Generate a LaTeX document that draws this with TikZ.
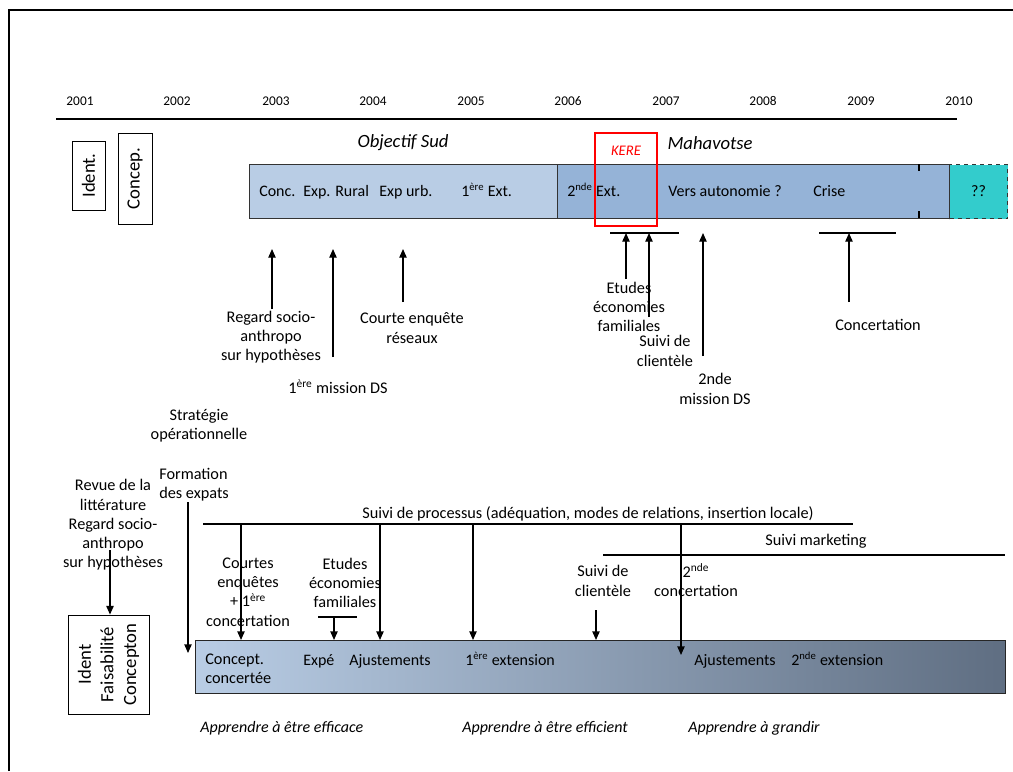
\documentclass[tikz,border=0pt]{standalone}
\usepackage{fontspec}
\setmainfont{Carlito}
\usetikzlibrary{arrows.meta}
\definecolor{barlight}{RGB}{185,205,229}
\definecolor{bardark}{RGB}{149,179,215}
\definecolor{teal2}{RGB}{51,204,204}
\definecolor{gradL}{RGB}{185,205,229}
\definecolor{gradR}{RGB}{95,110,130}
\begin{document}
\begin{tikzpicture}[x=0.75pt,y=-0.75pt,
  lbl/.style={font=\fontsize{12.2}{14.4}\selectfont, align=center, inner sep=0pt},
  lbll/.style={font=\fontsize{12.2}{14.4}\selectfont, align=left, inner sep=0pt, anchor=west},
  yr/.style={font=\fontsize{10}{12}\selectfont, inner sep=0pt, anchor=base},
  ital/.style={font=\fontsize{14}{16}\selectfont\itshape, inner sep=0pt},
  itl/.style={font=\fontsize{12}{14}\selectfont\itshape, inner sep=0pt, anchor=west},
  bartxt/.style={font=\fontsize{12}{14.3}\selectfont, inner sep=0pt, anchor=base west},
  vbox/.style={draw, line width=0.6pt, rotate=90, inner sep=0pt, align=center, font=\fontsize{14}{17}\selectfont},
  arr/.style={-{Triangle[length=6.5pt,width=5.5pt]}, line width=1pt},
  plain/.style={line width=1pt}]
\useasboundingbox (0,0) rectangle (1013,771);
% frame
\draw[line width=1.5pt] (9,771) -- (9,10) -- (1013,10);
% years
\foreach \yy/\xx in {2001/80,2002/177,2003/276,2004/373,2005/471,2006/568,2007/666,2008/763,2009/861,2010/959}
  \node[yr] (y\yy) at (\xx,105) {\yy};
\coordinate (tlA) at (56,119);
\coordinate (tlB) at (957,119);
\draw[line width=1.5pt] (tlA) -- (tlB);
% small boxes
\node[vbox, minimum width=51.75pt, minimum height=24.75pt] (ident) at (88.5,175.5) {Ident.};
\node[vbox, minimum width=68.25pt, minimum height=25.5pt] (concep) at (135,178.5) {Concep.};
% top bar
\node[draw=black!80, line width=0.8pt, fill=barlight, minimum width=231pt, minimum height=40.5pt, anchor=north west, inner sep=0pt] (os) at (249,164) {};
\node[draw=black!80, line width=0.8pt, fill=bardark, minimum width=294pt, minimum height=40.5pt, anchor=north west, inner sep=0pt] (mh) at (557,164) {};
\node[draw=black!80, dashed, line width=0.8pt, fill=teal2, minimum width=43.5pt, minimum height=40.5pt, anchor=north west, inner sep=0pt, font=\fontsize{12}{14}\selectfont] (qq) at (949,164) {??};
\draw[line width=0.8pt] (919,164) -- (919,171);
\draw[line width=0.8pt] (919,211) -- (919,218);
\node[bartxt] (t1) at (259,196) {Conc.};
\node[bartxt] (t2) at (303,196) {Exp. Rural};
\node[bartxt] (t3) at (379,196) {Exp urb.};
\node[bartxt] (t4) at (461,196) {1\textsuperscript{ère} Ext.};
\node[bartxt] (t5) at (567,196) {2\textsuperscript{nde} Ext.};
\node[bartxt] (t6) at (668,196) {Vers autonomie ?};
\node[bartxt] (t7) at (813,196) {Crise};
% KERE
\node[draw=red, line width=2.2pt, minimum width=46.5pt, minimum height=69.75pt, inner sep=0pt] (kere) at (626,179.5) {};
\node[font=\fontsize{11}{13}\selectfont\itshape, text=red, inner sep=0pt] (keret) at (626,151) {KERE};
\node[ital] (objsud) at (403,143) {Objectif Sud};
\node[ital] (mahav) at (710,143) {Mahavotse};
% upper annotations
\node[lbl] (regard) at (271,337) {Regard socio-\\anthropo\\sur hypothèses};
\node[lbl] (miss1) at (338,387) {1\textsuperscript{ère} mission DS};
\node[lbl] (courte) at (412,328) {Courte enquête\\réseaux};
\node[lbl] (etudesA) at (629,307) {Etudes\\économies\\familiales};
\node[lbl] (suiviA) at (665,351) {Suivi de\\clientèle};
\node[lbl] (miss2) at (715,389) {2nde\\mission DS};
\node[lbl] (concert) at (878,325) {Concertation};
\coordinate (a1s) at (272,309); \coordinate (a1e) at (272,249);
\coordinate (a2s) at (333,357); \coordinate (a2e) at (333,249);
\coordinate (a3s) at (403,302); \coordinate (a3e) at (403,249);
\draw[arr] (a1s) -- (a1e);
\draw[arr] (a2s) -- (a2e);
\draw[arr] (a3s) -- (a3e);
\coordinate (b1L) at (610,233); \coordinate (b1R) at (679,233);
\draw[plain] (b1L) -- (b1R);
\coordinate (a4s) at (626,279); \coordinate (a5s) at (649,317); \coordinate (a6s) at (703,356);
\draw[arr] (a4s) -- (a4s |- b1L);
\draw[arr] (a5s) -- (a5s |- b1L);
\draw[arr] (a6s) -- (a6s |- b1L);
\coordinate (b2L) at (819,233); \coordinate (b2R) at (896,233);
\draw[plain] (b2L) -- (b2R);
\coordinate (a7s) at (849,302);
\draw[arr] (a7s) -- (a7s |- b2L);
% lower part
\node[lbl] (strat) at (199,426) {Stratégie\\opérationnelle};
\node[lbll] (form) at (159,485) {Formation\\des expats};
\node[lbl] (revue) at (113,525) {Revue de la\\littérature\\Regard socio-\\anthropo\\sur hypothèses};
\node[vbox, minimum width=74.25pt, minimum height=60.75pt] (idbox) at (108.5,664.5) {Ident\\Faisabilité\\Concepton};
\coordinate (rv) at (110,550);
\draw[arr] (rv) -- (rv |- idbox.east);
\coordinate (fs) at (188,502); \coordinate (fe) at (188,653);
\draw[arr] (fs) -- (fe);
% bottom bar
\node[draw=black!85, line width=0.8pt, left color=gradL, right color=gradR, minimum width=607.5pt, minimum height=39.75pt, anchor=north west, inner sep=0pt] (bot) at (195,640) {};
\node[lbll] (cc) at (205,669) {Concept.\\concertée};
\node[bartxt] (bb1) at (303,665) {Expé};
\node[bartxt] (bb2) at (349,665) {Ajustements};
\node[bartxt] (bb3) at (465,665) {1\textsuperscript{ère} extension};
\node[bartxt] (bb4) at (694,665) {Ajustements};
\node[bartxt] (bb5) at (791,665) {2\textsuperscript{nde} extension};
% suivi lines
\coordinate (spL) at (203,524); \coordinate (spR) at (853,524);
\draw[plain] (spL) -- (spR);
\node[lbl] (suiviproc) at (588,514) {Suivi de processus (adéquation, modes de relations, insertion locale)};
\coordinate (smL) at (603,555); \coordinate (smR) at (1005,555);
\draw[plain] (smL) -- (smR);
\node[lbl] (suivimk) at (816,541) {Suivi marketing};
\coordinate (d1) at (241,524); \coordinate (d2) at (380,524); \coordinate (d3) at (473,524); \coordinate (d4) at (681,524);
\draw[arr] (d1) -- (d1 |- bot.north);
\draw[arr] (d2) -- (d2 |- bot.north);
\draw[arr] (d3) -- (d3 |- bot.north);
\coordinate (d4e) at (681,655);
\draw[arr] (d4) -- (d4e);
\node[lbl] (courtes) at (248,592) {Courtes\\enquêtes\\+ 1\textsuperscript{ère}\\concertation};
\node[lbl] (etudesB) at (345,583) {Etudes\\économies\\familiales};
\coordinate (ebL) at (318,617); \coordinate (ebR) at (357,617); \coordinate (eb) at (334,617);
\draw[line width=1.5pt] (ebL) -- (ebR);
\draw[arr] (eb) -- (eb |- bot.north);
\node[lbl] (suiviB) at (603,581) {Suivi de\\clientèle};
\coordinate (sc) at (596,610);
\draw[arr] (sc) -- (sc |- bot.north);
\node[lbl] (conc2) at (696,580) {2\textsuperscript{nde}\\concertation};
% bottom italics
\node[itl] (ap1) at (200,728) {Apprendre à être efficace};
\node[itl] (ap2) at (462,728) {Apprendre à être efficient};
\node[itl] (ap3) at (688,728) {Apprendre à grandir};
\end{tikzpicture}
\end{document}
